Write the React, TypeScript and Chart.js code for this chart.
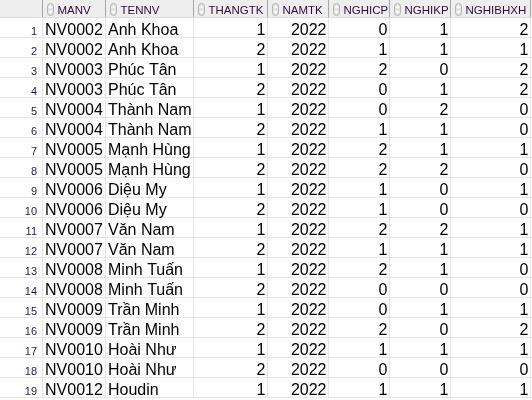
import React, { useEffect, useRef } from "react";
import { Chart, registerables } from "chart.js";

Chart.register(...registerables);

const headers = ["MANV", "TENNV", "THANGTK", "NAMTK", "NGHICP", "NGHIKP", "NGHIBHXH"];
const manv = ["NV0002", "NV0002", "NV0003", "NV0003", "NV0004", "NV0004", "NV0005", "NV0005", "NV0006", "NV0006", "NV0007", "NV0007", "NV0008", "NV0008", "NV0009", "NV0009", "NV0010", "NV0010", "NV0012"];
const tennv = ["Anh Khoa", "Anh Khoa", "Phúc Tân", "Phúc Tân", "Thành Nam", "Thành Nam", "Mạnh Hùng", "Mạnh Hùng", "Diệu My", "Diệu My", "Văn Nam", "Văn Nam", "Minh Tuấn", "Minh Tuấn", "Trần Minh", "Trần Minh", "Hoài Như", "Hoài Như", "Houdin"];
const thangtk = [1, 2, 1, 2, 1, 2, 1, 2, 1, 2, 1, 2, 1, 2, 1, 2, 1, 2, 1];
const namtk = [2022, 2022, 2022, 2022, 2022, 2022, 2022, 2022, 2022, 2022, 2022, 2022, 2022, 2022, 2022, 2022, 2022, 2022, 2022];
const nghicp = [0, 1, 2, 0, 0, 1, 2, 2, 1, 1, 2, 1, 2, 0, 0, 2, 1, 0, 1];
const nghikp = [1, 1, 0, 1, 2, 1, 1, 2, 0, 0, 2, 1, 1, 0, 1, 0, 1, 0, 1];
const nghibhxh = [2, 1, 2, 2, 0, 0, 1, 0, 1, 0, 1, 1, 0, 0, 1, 2, 1, 0, 1];

// layout (style) constants
const COL_EDGES = [0, 43, 106, 194, 268, 329, 390, 451, 531];
const ALIGN = ["left", "left", "right", "right", "right", "right", "right"];
const HEADER_ROWS = 0.9;
const FONT = '"Liberation Sans", Arial, sans-serif';

const tablePlugin = {
  id: "tablePlugin",
  afterDraw(chart: any) {
    const ctx = chart.ctx as CanvasRenderingContext2D;
    const xs = chart.scales.x;
    const ys = chart.scales.y;
    const columns: (string | number)[][] = [manv, tennv, thangtk, namtk, nghicp, nghikp, nghibhxh];
    const nRows = manv.length;
    const X = (v: number) => xs.getPixelForValue(v);
    const Y = (v: number) => ys.getPixelForValue(v);
    const left = X(0);
    ctx.save();
    // background
    ctx.fillStyle = "#ffffff";
    ctx.fillRect(0, 0, chart.width, chart.height);
    // header background
    const hTop = Y(-HEADER_ROWS);
    const hBot = Y(0);
    ctx.fillStyle = "#eeeeee";
    ctx.fillRect(left, hTop, chart.width, hBot - hTop);
    // row lines
    ctx.strokeStyle = "#e6e6e6";
    ctx.lineWidth = 1;
    for (let r = 1; r <= nRows; r++) {
      const y = Math.round(Y(r)) - 0.5;
      ctx.beginPath();
      ctx.moveTo(left, y);
      ctx.lineTo(chart.width, y);
      ctx.stroke();
    }
    // vertical lines
    for (let c = 1; c < COL_EDGES.length; c++) {
      const x = Math.round(X(COL_EDGES[c])) - 0.5;
      ctx.strokeStyle = "#e6e6e6";
      ctx.beginPath();
      ctx.moveTo(x, hBot);
      ctx.lineTo(x, Y(nRows));
      ctx.stroke();
      ctx.strokeStyle = "#a6a6a6";
      ctx.beginPath();
      ctx.moveTo(x, hTop);
      ctx.lineTo(x, hBot);
      ctx.stroke();
    }
    // header bottom line
    ctx.strokeStyle = "#dcdcdc";
    ctx.beginPath();
    ctx.moveTo(left, Math.round(hBot) - 0.5);
    ctx.lineTo(chart.width, Math.round(hBot) - 0.5);
    ctx.stroke();

    // header labels + sort icons
    const hBase = Y(-0.2);
    headers.forEach((h, i) => {
      const cl = X(COL_EDGES[i + 1]);
      const ix = cl + 4.5;
      const iy = hTop + 3.5;
      const iw = 6;
      const ih = 12;
      ctx.fillStyle = "#e2e2e2";
      ctx.strokeStyle = "#b4b4b4";
      ctx.beginPath();
      ctx.moveTo(ix + iw / 2, iy);
      ctx.arcTo(ix + iw, iy, ix + iw, iy + ih, 3);
      ctx.arcTo(ix + iw, iy + ih, ix, iy + ih, 3);
      ctx.arcTo(ix, iy + ih, ix, iy, 3);
      ctx.arcTo(ix, iy, ix + iw, iy, 3);
      ctx.closePath();
      ctx.fill();
      ctx.stroke();
      ctx.fillStyle = "#ffffff";
      ctx.beginPath();
      ctx.moveTo(ix + iw / 2, iy + 1.5);
      ctx.lineTo(ix + iw - 1.2, iy + 4.5);
      ctx.lineTo(ix + 1.2, iy + 4.5);
      ctx.closePath();
      ctx.fill();
      ctx.beginPath();
      ctx.moveTo(ix + iw / 2, iy + ih - 1.5);
      ctx.lineTo(ix + iw - 1.2, iy + ih - 4.5);
      ctx.lineTo(ix + 1.2, iy + ih - 4.5);
      ctx.closePath();
      ctx.fill();
      ctx.fillStyle = "#2c0c3c";
      ctx.font = `11.5px ${FONT}`;
      ctx.textAlign = "left";
      ctx.textBaseline = "alphabetic";
      ctx.fillText(h, cl + 14.5, hBase);
    });

    // cells
    for (let r = 0; r < nRows; r++) {
      const base = Y(r + 0.85);
      ctx.fillStyle = "#1c1c4c";
      ctx.font = `11px ${FONT}`;
      ctx.textAlign = "right";
      ctx.fillText(String(r + 1), X(COL_EDGES[1]) - 6, base);
      ctx.fillStyle = "#000000";
      ctx.font = `16px ${FONT}`;
      columns.forEach((col, c) => {
        const cl = X(COL_EDGES[c + 1]);
        const cr = X(COL_EDGES[c + 2]);
        if (ALIGN[c] === "left") {
          ctx.textAlign = "left";
          ctx.fillText(String(col[r]), cl + 2, base);
        } else {
          ctx.textAlign = "right";
          ctx.fillText(String(col[r]), cr - 2.5, base);
        }
      });
    }
    ctx.restore();
  },
};

export default function App() {
  const ref = useRef<HTMLCanvasElement | null>(null);
  useEffect(() => {
    document.body.style.margin = "0";
    if (!ref.current) return;
    const chart = new Chart(ref.current, {
      type: "scatter",
      data: { datasets: [] },
      options: {
        animation: false,
        responsive: true,
        maintainAspectRatio: false,
        layout: { padding: 0 },
        plugins: { legend: { display: false }, tooltip: { enabled: false } },
        scales: {
          x: { type: "linear", min: 0, max: 532, display: false },
          y: { type: "linear", min: -HEADER_ROWS, max: 19.1, reverse: true, display: false },
        },
      },
      plugins: [tablePlugin],
    });
    return () => chart.destroy();
  }, []);
  return (
    <div style={{ width: 532, height: 400, position: "relative" }}>
      <canvas ref={ref} />
    </div>
  );
}
